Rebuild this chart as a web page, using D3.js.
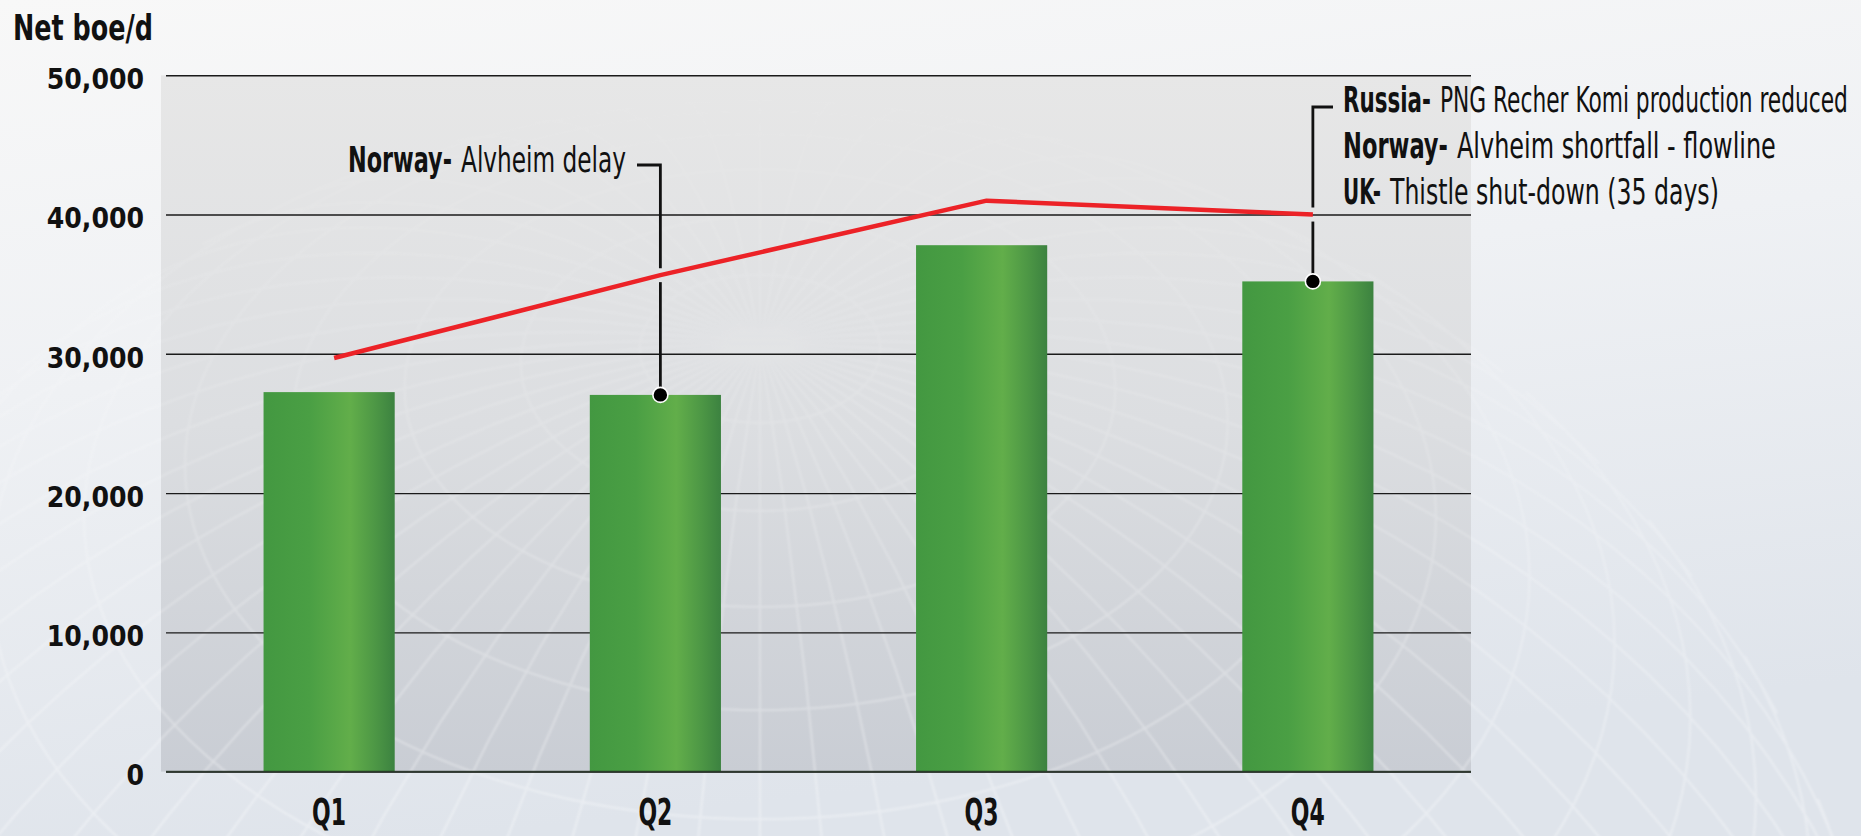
<!DOCTYPE html>
<html>
<head>
<meta charset="utf-8">
<script src="https://cdn.jsdelivr.net/npm/d3@7"></script>
<style>
  html, body { margin: 0; padding: 0; background: #f2f3f5; }
  svg { display: block; }
  text { font-family: "Liberation Sans Narrow", "Arial Narrow", "DejaVu Sans Condensed", "Roboto Condensed", "Liberation Sans", sans-serif; font-stretch: condensed; fill: #111; }
</style>
</head>
<body>
<svg id="chart" width="1861" height="836"></svg>
<script>
// Quarterly net production (boe/d): actual bars and target line
const quarters = ["Q1", "Q2", "Q3", "Q4"];
const actual = [27250, 27050, 37800, 35200];
const target = [29700, 35650, 41000, 40000];
const yTicks = [0, 10000, 20000, 30000, 40000, 50000];
const yTitle = "Net boe/d";

// Event notes attached to quarters
const noteQ2 = [{ bold: "Norway-", rest: "Alvheim delay" }];
const noteQ4 = [
  { bold: "Russia-", rest: "PNG Recher Komi production reduced" },
  { bold: "Norway-", rest: "Alvheim shortfall - flowline" },
  { bold: "UK-", rest: "Thistle shut-down (35 days)" }
];

const W = 1861, H = 836;
const svg = d3.select("#chart");
const defs = svg.append("defs");

// squeeze a text element horizontally to a given width, keeping its x fixed
function fitWidth(sel, width) {
  sel.each(function () {
    const natural = this.getComputedTextLength();
    if (!natural) return;
    const k = width / natural;
    const bx = +d3.select(this).attr("x");
    d3.select(this).attr("transform", `translate(${bx},0) scale(${k},1) translate(${-bx},0)`);
  });
}

// ---------- background ----------
const bgGrad = defs.append("linearGradient").attr("id", "bgGrad")
  .attr("x1", 0).attr("y1", 0).attr("x2", 0.25).attr("y2", 1);
bgGrad.append("stop").attr("offset", "0%").attr("stop-color", "#f8f8f8");
bgGrad.append("stop").attr("offset", "45%").attr("stop-color", "#eff1f4");
bgGrad.append("stop").attr("offset", "100%").attr("stop-color", "#dfe4eb");
svg.append("rect").attr("width", W).attr("height", H).attr("fill", "url(#bgGrad)");

const plot = { left: 161, right: 1471, top: 75.3, bottom: 771.6 };

const panelGrad = defs.append("linearGradient").attr("id", "panelGrad")
  .attr("x1", 0).attr("y1", 0).attr("x2", 0).attr("y2", 1);
panelGrad.append("stop").attr("offset", "0%").attr("stop-color", "#e7e7e7");
panelGrad.append("stop").attr("offset", "50%").attr("stop-color", "#dcdee1");
panelGrad.append("stop").attr("offset", "100%").attr("stop-color", "#c9cdd4");
svg.append("rect")
  .attr("x", plot.left).attr("y", plot.top)
  .attr("width", plot.right - plot.left).attr("height", plot.bottom - plot.top)
  .attr("fill", "url(#panelGrad)");

// faint globe wireframe in the backdrop
const fade = defs.append("linearGradient").attr("id", "fadeGrad")
  .attr("x1", 0).attr("y1", 0).attr("x2", 0).attr("y2", 1);
fade.append("stop").attr("offset", "0%").attr("stop-color", "#fff").attr("stop-opacity", 0.0);
fade.append("stop").attr("offset", "40%").attr("stop-color", "#fff").attr("stop-opacity", 0.25);
fade.append("stop").attr("offset", "100%").attr("stop-color", "#fff").attr("stop-opacity", 0.75);
defs.append("mask").attr("id", "fadeMask").attr("maskUnits", "userSpaceOnUse")
  .attr("x", 0).attr("y", 0).attr("width", W).attr("height", H)
  .append("rect").attr("width", W).attr("height", H).attr("fill", "url(#fadeGrad)");
defs.append("filter").attr("id", "soft").append("feGaussianBlur").attr("stdDeviation", 1);

const globe = d3.geoOrthographic().scale(1150).translate([760, 1250]).rotate([30, -38]).clipAngle(90);
svg.append("path")
  .datum(d3.geoGraticule().step([6, 6])())
  .attr("d", d3.geoPath(globe))
  .attr("fill", "none").attr("stroke", "#ffffff").attr("stroke-width", 2.2)
  .attr("opacity", 0.45).attr("mask", "url(#fadeMask)").attr("filter", "url(#soft)");

// ---------- scales ----------
const x = d3.scaleBand().domain(quarters).range([166, 1471]).paddingInner(0.598).paddingOuter(0.299);
const y = d3.scaleLinear().domain([0, 50000]).range([plot.bottom, plot.top]);
const lineX = q => x(q) + x.bandwidth() / 2 + 5;

// ---------- gridlines ----------
const grid = svg.append("g").call(
  d3.axisLeft(y).tickValues(yTicks).tickSize(-(1471 - 166)).tickFormat("")
).attr("transform", "translate(166,0)");
grid.select(".domain").remove();
grid.selectAll(".tick line").attr("stroke", "#1a1a1a").attr("stroke-width", 1.4);

// ---------- bars ----------
const barGrad = defs.append("linearGradient").attr("id", "barGrad")
  .attr("x1", 0).attr("y1", 0).attr("x2", 1).attr("y2", 0);
[["0%", "#439841"], ["35%", "#4a9f44"], ["66%", "#62ae4a"], ["85%", "#4d9745"], ["100%", "#3c8240"]]
  .forEach(([o, c]) => barGrad.append("stop").attr("offset", o).attr("stop-color", c));

svg.append("g").selectAll("rect").data(quarters).join("rect")
  .attr("x", d => x(d))
  .attr("y", (d, i) => y(actual[i]))
  .attr("width", x.bandwidth())
  .attr("height", (d, i) => y(0) - y(actual[i]))
  .attr("fill", "url(#barGrad)");

// baseline over bar bottoms
svg.append("line")
  .attr("x1", 166).attr("x2", 1471).attr("y1", y(0)).attr("y2", y(0))
  .attr("stroke", "#1d2a1d").attr("stroke-width", 1.6).attr("opacity", 0.8);

// ---------- target line ----------
const linePts = quarters.map((q, i) => [lineX(q), y(target[i])]);
svg.append("path")
  .datum(linePts)
  .attr("d", d3.line())
  .attr("fill", "none").attr("stroke", "#ec2227").attr("stroke-width", 4.5)
  .attr("stroke-linejoin", "round");

// target line height at an x position (used to break leader lines)
function lineYAt(px) {
  for (let i = 0; i < linePts.length - 1; i++) {
    const [x0, y0] = linePts[i], [x1, y1] = linePts[i + 1];
    if (px >= x0 && px <= x1) return y0 + (y1 - y0) * (px - x0) / (x1 - x0);
  }
  return null;
}

// ---------- notes with leaders ----------
const leader = svg.append("g").attr("fill", "none").attr("stroke", "#111").attr("stroke-width", 2.8);

function drawLeader(q, i, topY, elbowX) {
  const px = lineX(q), py = y(actual[i]);
  const cross = lineYAt(px);
  const gap = 7;
  if (cross !== null && cross > topY + 10 && cross < py) {
    leader.append("path").attr("d", d3.line()([[elbowX, topY], [px, topY], [px, cross - gap]]));
    leader.append("path").attr("d", d3.line()([[px, cross + gap], [px, py]]));
  } else {
    leader.append("path").attr("d", d3.line()([[elbowX, topY], [px, topY], [px, py]]));
  }
  svg.append("circle").attr("cx", px).attr("cy", py).attr("r", 7.5)
    .attr("fill", "#000").attr("stroke", "#fff").attr("stroke-width", 1.6);
}

drawLeader("Q2", 1, 165, 637);
drawLeader("Q4", 3, 107, 1333);

// each note line: bold lead-in then regular text, both squeezed to set widths
function noteLine(d, x0, xRest, x1, baseline) {
  const g = svg.append("g");
  const b = g.append("text").attr("x", x0).attr("y", baseline)
    .attr("font-size", 35).attr("font-weight", "bold").text(d.bold);
  const r = g.append("text").attr("x", xRest).attr("y", baseline)
    .attr("font-size", 35).attr("font-weight", "normal").text(d.rest);
  fitWidth(b, xRest - x0 - 9);
  fitWidth(r, x1 - xRest);
}
noteLine(noteQ2[0], 348, 461, 626, 172);
noteLine(noteQ4[0], 1343, 1440, 1848, 112);
noteLine(noteQ4[1], 1343, 1457, 1776, 158);
noteLine(noteQ4[2], 1343, 1390, 1719, 204);

// ---------- axes labels ----------
const fmt = d3.format(",");
svg.append("g").selectAll("text").data(yTicks).join("text")
  .attr("x", 144).attr("y", d => y(d) + 13.7)
  .attr("text-anchor", "end")
  .attr("font-size", 28).attr("font-weight", "bold")
  .text(d => fmt(d));

const qLabels = svg.append("g").selectAll("text").data(quarters).join("text")
  .attr("x", d => x(d) + x.bandwidth() / 2)
  .attr("y", 825)
  .attr("text-anchor", "middle")
  .attr("font-size", 37).attr("font-weight", "bold")
  .text(d => d);
fitWidth(qLabels, 34);

const title = svg.append("text")
  .attr("x", 13).attr("y", 40)
  .attr("font-size", 35).attr("font-weight", "bold")
  .text(yTitle);
fitWidth(title, 140);
</script>
</body>
</html>
